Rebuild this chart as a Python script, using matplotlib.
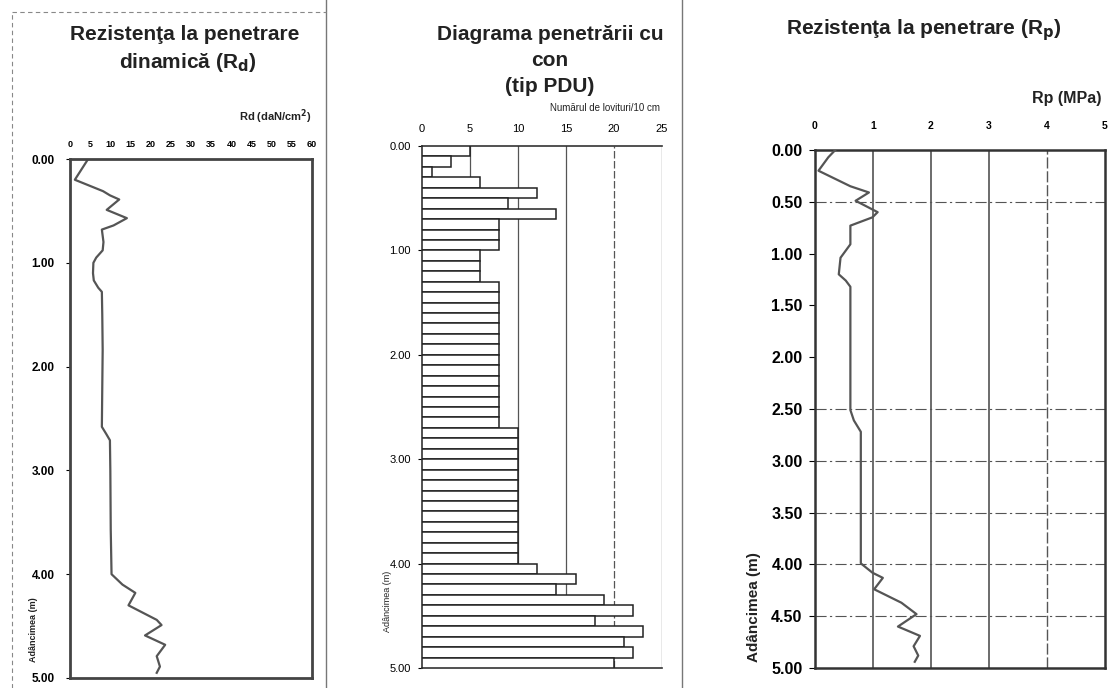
import numpy as np
import matplotlib.pyplot as plt
from matplotlib.lines import Line2D

plt.rcParams['font.family'] = ['Liberation Sans', 'DejaVu Sans']

# --- Date: rezistenta dinamica Rd (daN/cm2) vs adancime (m) ---
rd_depth = [0.00, 0.20, 0.31, 0.35, 0.39, 0.49, 0.57, 0.64, 0.68, 0.80, 0.88,
            0.95, 1.00, 1.10, 1.17, 1.24, 1.28, 1.50, 1.84, 2.20, 2.58, 2.65,
            2.71, 3.00, 3.57, 4.00, 4.10, 4.18, 4.30, 4.44, 4.49, 4.59, 4.68,
            4.79, 4.89, 4.95]
rd_value = [4.5, 1.2, 8.2, 9.9, 12.2, 9.1, 14.1, 10.8, 7.9, 8.3, 8.1,
            6.5, 5.8, 5.7, 5.9, 7.0, 7.9, 8.0, 8.1, 8.0, 7.9, 9.0,
            9.9, 10.0, 10.1, 10.3, 13.0, 16.2, 14.5, 21.5, 22.7, 18.6, 23.6,
            21.5, 22.3, 21.5]

# --- Date: numarul de lovituri / 10 cm (PDU), cate o bara pe 10 cm ---
blows = [5, 3, 1, 6, 12, 9, 14, 8, 8, 8,
         6, 6, 6, 8, 8, 8, 8, 8, 8, 8,
         8, 8, 8, 8, 8, 8, 8, 10, 10, 10,
         10, 10, 10, 10, 10, 10, 10, 10, 10, 10,
         12, 16, 14, 19, 22, 18, 23, 21, 22, 20]
bar_step = 0.1

# --- Date: rezistenta la penetrare Rp (MPa) vs adancime (m) ---
rp_depth = [0.00, 0.07, 0.20, 0.35, 0.41, 0.49, 0.60, 0.65, 0.73, 0.91,
            1.04, 1.20, 1.26, 1.32, 1.80, 2.51, 2.61, 2.72, 3.50, 3.99,
            4.08, 4.13, 4.24, 4.37, 4.48, 4.60, 4.69, 4.79, 4.88, 4.94]
rp_value = [0.35, 0.23, 0.06, 0.61, 0.93, 0.70, 1.08, 0.99, 0.61, 0.61,
            0.44, 0.41, 0.53, 0.61, 0.61, 0.61, 0.67, 0.79, 0.79, 0.79,
            0.99, 1.17, 1.02, 1.49, 1.75, 1.43, 1.81, 1.70, 1.78, 1.72]

depth_ticks = [0, 1, 2, 3, 4, 5]
rp_depth_ticks = np.arange(0, 5.01, 0.5)

W, H = 1110, 688
fig = plt.figure(figsize=(W / 100, H / 100), dpi=100)
INK = '#222222'


def box(x0, y0, x1, y1):
    """Pozitia unui axes din coordonate de pixel (origine sus-stanga)."""
    return [x0 / W, 1 - y1 / H, (x1 - x0) / W, (y1 - y0) / H]


def ftext(x, y, s, **kw):
    fig.text(x / W, 1 - y / H, s, color=INK, **kw)


# ------------------------------------------------------------ panoul 1
ax1 = fig.add_axes(box(70, 159, 312, 678))
ax1.plot(rd_value, rd_depth, color='#555555', lw=1.6)
ax1.set_xlim(0, 60)
ax1.set_ylim(5, 0)
ax1.set_xticks(range(0, 61, 5))
ax1.xaxis.tick_top()
ax1.tick_params(axis='x', length=0, pad=7, labelsize=6.5)
ax1.set_yticks(depth_ticks)
ax1.set_yticklabels([f"{v:.2f}" for v in depth_ticks])
ax1.tick_params(axis='y', length=3, pad=8, labelsize=8.5)
for lab in ax1.get_xticklabels() + ax1.get_yticklabels():
    lab.set_fontweight('bold')
for sp in ax1.spines.values():
    sp.set_linewidth(2.0)
    sp.set_color('#444444')
ftext(185, 35, "Rezistenţa la penetrare", ha='center', va='center',
      fontsize=15, fontweight='bold')
ftext(188, 63, "dinamică (R$_\\mathbf{d}$)", ha='center', va='center',
      fontsize=15, fontweight='bold')
ftext(312, 117, "Rd (daN/cm$^\\mathbf{2}$)", ha='right', va='center',
      fontsize=8, fontweight='bold')
ftext(34, 630, "Adâncimea (m)", ha='center', va='center', rotation=90,
      fontsize=6.5, fontweight='bold')

# ------------------------------------------------------------ panoul 2
ax2 = fig.add_axes(box(422, 146, 662, 668))
tops = np.arange(len(blows)) * bar_step
ax2.barh(tops, blows, height=bar_step, align='edge', color='white',
         edgecolor=INK, linewidth=1.1, zorder=3)
for xv in [5, 10, 15, 25]:
    ax2.axvline(xv, color='#555555', lw=0.9, zorder=1)
ax2.axvline(20, color='#555555', lw=0.9, ls=(0, (6, 2)), zorder=1)
ax2.set_xlim(0, 25)
ax2.set_ylim(5, 0)
ax2.set_xticks(range(0, 26, 5))
ax2.xaxis.tick_top()
ax2.tick_params(axis='x', length=0, pad=9, labelsize=8)
ax2.set_yticks(depth_ticks)
ax2.set_yticklabels([f"{v:.2f}" for v in depth_ticks])
ax2.tick_params(axis='y', length=3, pad=5, labelsize=8)
for sp in ax2.spines.values():
    sp.set_linewidth(1.2)
    sp.set_color('#333333')
ax2.spines['right'].set_visible(False)
ftext(550, 35, "Diagrama penetrării cu", ha='center', va='center',
      fontsize=15, fontweight='bold')
ftext(550, 61, "con", ha='center', va='center',
      fontsize=15, fontweight='bold')
ftext(550, 86, "(tip PDU)", ha='center', va='center',
      fontsize=15, fontweight='bold')
ftext(660, 108, "Numărul de lovituri/10 cm", ha='right', va='center',
      fontsize=7)
ftext(387, 601, "Adâncimea (m)", ha='center', va='center', rotation=90,
      fontsize=6.5)

# ------------------------------------------------------------ panoul 3
ax3 = fig.add_axes(box(815, 150, 1105, 668))
for xv in [1, 2, 3]:
    ax3.axvline(xv, color='#444444', lw=1.1, zorder=1)
ax3.axvline(4, color='#555555', lw=1.0, ls=(0, (8, 2)), zorder=1)
for yv in [0.5, 2.5, 3.0, 3.5, 4.0, 4.5]:
    ax3.axhline(yv, color='#555555', lw=0.8, ls=(0, (10, 3, 2, 3)), zorder=1)
ax3.plot(rp_value, rp_depth, color='#555555', lw=1.6, zorder=3)
ax3.set_xlim(0, 5)
ax3.set_ylim(5, 0)
ax3.set_xticks(range(0, 6))
ax3.xaxis.tick_top()
ax3.tick_params(axis='x', length=0, pad=14, labelsize=7.5)
ax3.set_yticks(rp_depth_ticks)
ax3.set_yticklabels([f"{v:.2f}" for v in rp_depth_ticks])
ax3.tick_params(axis='y', length=4, pad=5, labelsize=11.5)
for lab in ax3.get_xticklabels() + ax3.get_yticklabels():
    lab.set_fontweight('bold')
for sp in ax3.spines.values():
    sp.set_linewidth(1.8)
    sp.set_color('#333333')
ftext(924, 30, "Rezistenţa la penetrare (R$_\\mathbf{p}$)", ha='center',
      va='center', fontsize=15, fontweight='bold')
ftext(1102, 98, "Rp (MPa)", ha='right', va='center',
      fontsize=11.5, fontweight='bold')
ftext(754, 607, "Adâncimea (m)", ha='center', va='center', rotation=90,
      fontsize=11, fontweight='bold')

# --- chenarele tabelului scanat ---
for x in [326, 682]:
    fig.add_artist(Line2D([x / W, x / W], [0, 1], color='#777777', lw=1.0))
fig.add_artist(Line2D([12 / W, 12 / W], [0, 1 - 12 / H], color='#888888',
                      lw=0.8, ls=(0, (4, 3))))
fig.add_artist(Line2D([12 / W, 326 / W], [1 - 12 / H, 1 - 12 / H],
                      color='#888888', lw=0.8, ls=(0, (4, 3))))

fig.savefig("out.png", dpi=100)
